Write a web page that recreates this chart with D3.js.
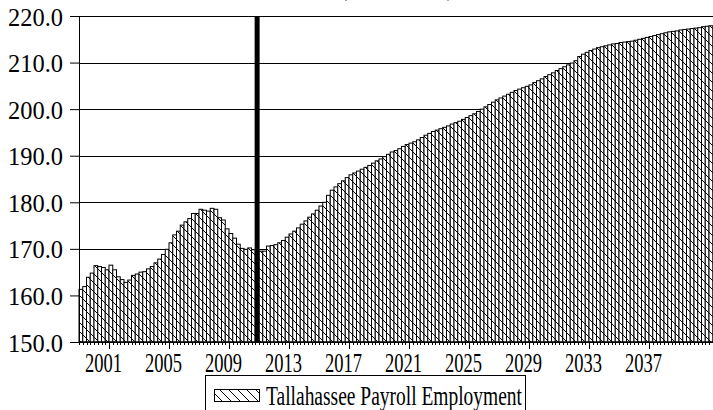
<!DOCTYPE html>
<html>
<head>
<meta charset="utf-8">
<script src="https://cdn.jsdelivr.net/npm/d3@7"></script>
<style>
  body { margin: 0; background: #fff; }
</style>
</head>
<body>
<div id="chart"></div>
<script>
const width = 713, height = 410;
const margin = {top: 16, right: 0, bottom: 68, left: 79};

// quarterly employment, thousands (1999Q3 .. 2041Q3)
const employment = [
  161.3, 161.9, 163.9, 164.8, 166.4, 166.2, 166.0, 165.5, 166.5, 165.5,
  164.0, 163.4, 162.8, 163.3, 164.3, 164.6, 165.0, 165.1, 165.7, 166.2,
  167.0, 167.8, 168.8, 169.9, 171.3, 173.0, 173.8, 175.1, 175.8, 176.5,
  177.6, 177.6, 178.5, 178.3, 178.1, 178.7, 178.5, 176.7, 176.2, 174.3,
  173.3, 172.3, 171.0, 170.1, 169.9, 170.2, 169.8, 169.4, 169.5, 169.5,
  170.6, 170.7, 170.9, 171.3, 171.8, 172.5, 173.2, 173.8, 174.5, 175.3,
  176.0, 176.8, 177.5, 178.3, 179.2, 180.0, 181.5, 182.6, 183.3, 184.0,
  184.6, 185.3, 185.9, 186.3, 186.7, 187.1, 187.5, 187.9, 188.4, 188.9,
  189.3, 189.8, 190.3, 190.8, 191.1, 191.5, 192.0, 192.4, 192.7, 193.0,
  193.4, 193.9, 194.4, 194.8, 195.2, 195.5, 195.8, 196.1, 196.4, 196.8,
  197.1, 197.4, 197.8, 198.2, 198.6, 199.0, 199.5, 200.0, 200.5, 201.0,
  201.5, 202.0, 202.4, 202.8, 203.2, 203.6, 204.0, 204.3, 204.6, 204.9,
  205.2, 205.7, 206.1, 206.5, 207.0, 207.4, 207.8, 208.3, 208.7, 209.1,
  209.5, 209.9, 210.4, 211.3, 211.8, 212.2, 212.6, 212.9, 213.2, 213.4,
  213.6, 213.8, 214.0, 214.1, 214.3, 214.4, 214.5, 214.6, 214.8, 215.0,
  215.2, 215.4, 215.6, 215.8, 216.0, 216.2, 216.4, 216.6, 216.7, 216.8,
  217.0, 217.1, 217.2, 217.3, 217.4, 217.5, 217.7, 217.8, 217.9
];
const startYear = 1999, startQuarter = 3;
const yearLabels = ["2001", "2005", "2009", "2013", "2017", "2021", "2025", "2029", "2033", "2037"];
const yTicks = [150, 160, 170, 180, 190, 200, 210, 220];
const forecastStart = "2011Q2";
const seriesName = "Tallahassee Payroll Employment";
const subTitle = "(Thousands)";
// no serif face in the sandbox, so sans text is squeezed to the source widths
const FONT = "Liberation Serif, DejaVu Serif, serif";

// quarter names for the band scale
let quarters = [];
for (let i = 0; i < employment.length; i++) {
  let q = startQuarter - 1 + i;
  quarters.push((startYear + Math.floor(q / 4)) + "Q" + (q % 4 + 1));
}

let svg = d3.select("#chart").append("svg")
  .attr("width", width).attr("height", height)
  .style("font-family", FONT);

// hatch pattern
let defs = svg.append("defs");
let pat = defs.append("pattern")
  .attr("id", "hatch")
  .attr("patternUnits", "userSpaceOnUse")
  .attr("width", 9).attr("height", 9);
pat.append("rect").attr("width", 9).attr("height", 9).attr("fill", "#fff");
pat.append("path")
  .attr("d", "M-1,-1 L10,10 M-10,-1 L1,10 M8,-1 L19,10")
  .attr("stroke", "#000").attr("stroke-width", 1);

let x = d3.scaleBand()
  .domain(quarters)
  .range([margin.left, margin.left + employment.length * 3.75])
  .padding(0);

let y = d3.scaleLinear()
  .domain([150, 220])
  .range([height - margin.bottom, margin.top]);

// gridlines
svg.append("g").selectAll("line").data(yTicks).enter().append("line")
  .attr("x1", margin.left).attr("x2", width)
  .attr("y1", d => Math.round(y(d)) + 0.5).attr("y2", d => Math.round(y(d)) + 0.5)
  .attr("stroke", "#000").attr("stroke-width", 1.2);

// bars
svg.append("g").selectAll("rect").data(employment).enter().append("rect")
  .attr("x", (d, i) => x(quarters[i]))
  .attr("y", d => y(d))
  .attr("width", x.bandwidth())
  .attr("height", d => y(150) - y(d))
  .attr("fill", "url(#hatch)")
  .attr("stroke", "#000")
  .attr("stroke-width", 1);

// forecast divider
svg.append("line")
  .attr("x1", x(forecastStart) + x.bandwidth() / 2)
  .attr("x2", x(forecastStart) + x.bandwidth() / 2)
  .attr("y1", y(220)).attr("y2", y(150))
  .attr("stroke", "#000").attr("stroke-width", 5);

// y axis
let yAxis = svg.append("g")
  .attr("transform", `translate(${margin.left},0)`)
  .call(d3.axisLeft(y).tickValues(yTicks).tickSize(9).tickPadding(7).tickFormat(d3.format(".1f")));
yAxis.attr("font-family", null);
yAxis.select(".domain").attr("stroke", "#000");
yAxis.selectAll("text")
  .style("font-size", "25px")
  .attr("dy", "0.36em")
  .attr("textLength", 55)
  .attr("lengthAdjust", "spacingAndGlyphs");

// x axis line + ticks
let xg = svg.append("g");
xg.append("line")
  .attr("x1", margin.left).attr("x2", width)
  .attr("y1", y(150)).attr("y2", y(150))
  .attr("stroke", "#000");
xg.selectAll("line.minor").data(quarters).enter().append("line")
  .attr("class", "minor")
  .attr("x1", d => Math.round(x(d)) + 0.5).attr("x2", d => Math.round(x(d)) + 0.5)
  .attr("y1", y(150)).attr("y2", y(150) + 3)
  .attr("stroke", "#000");
xg.selectAll("line.major").data(yearLabels).enter().append("line")
  .attr("class", "major")
  .attr("x1", d => Math.round(x(d + "Q3")) + 0.5).attr("x2", d => Math.round(x(d + "Q3")) + 0.5)
  .attr("y1", y(150)).attr("y2", y(150) + 7)
  .attr("stroke", "#000");
xg.selectAll("text").data(yearLabels).enter().append("text")
  .attr("x", d => x(d + "Q1") + x.bandwidth() / 2)
  .attr("y", y(150) + 30)
  .attr("text-anchor", "middle")
  .style("font-size", "27px")
  .attr("textLength", 37)
  .attr("lengthAdjust", "spacingAndGlyphs")
  .text(d => d);

// title (cut off at top, as in the source image)
svg.append("text")
  .attr("x", 397).attr("y", -4)
  .attr("text-anchor", "middle")
  .style("font-size", "24px")
  .attr("textLength", 115)
  .attr("lengthAdjust", "spacingAndGlyphs")
  .text(subTitle);

// legend
let leg = svg.append("g").attr("transform", "translate(205,375)");
leg.append("rect")
  .attr("x", 0.5).attr("y", 0.5).attr("width", 320).attr("height", 40)
  .attr("fill", "#fff").attr("stroke", "#000");
leg.append("rect")
  .attr("x", 9.5).attr("y", 14.5).attr("width", 45).attr("height", 12)
  .attr("fill", "url(#hatch)").attr("stroke", "#000");
leg.append("text")
  .attr("x", 61).attr("y", 30)
  .style("font-size", "27px")
  .attr("textLength", 256)
  .attr("lengthAdjust", "spacingAndGlyphs")
  .text(seriesName);
</script>
</body>
</html>
